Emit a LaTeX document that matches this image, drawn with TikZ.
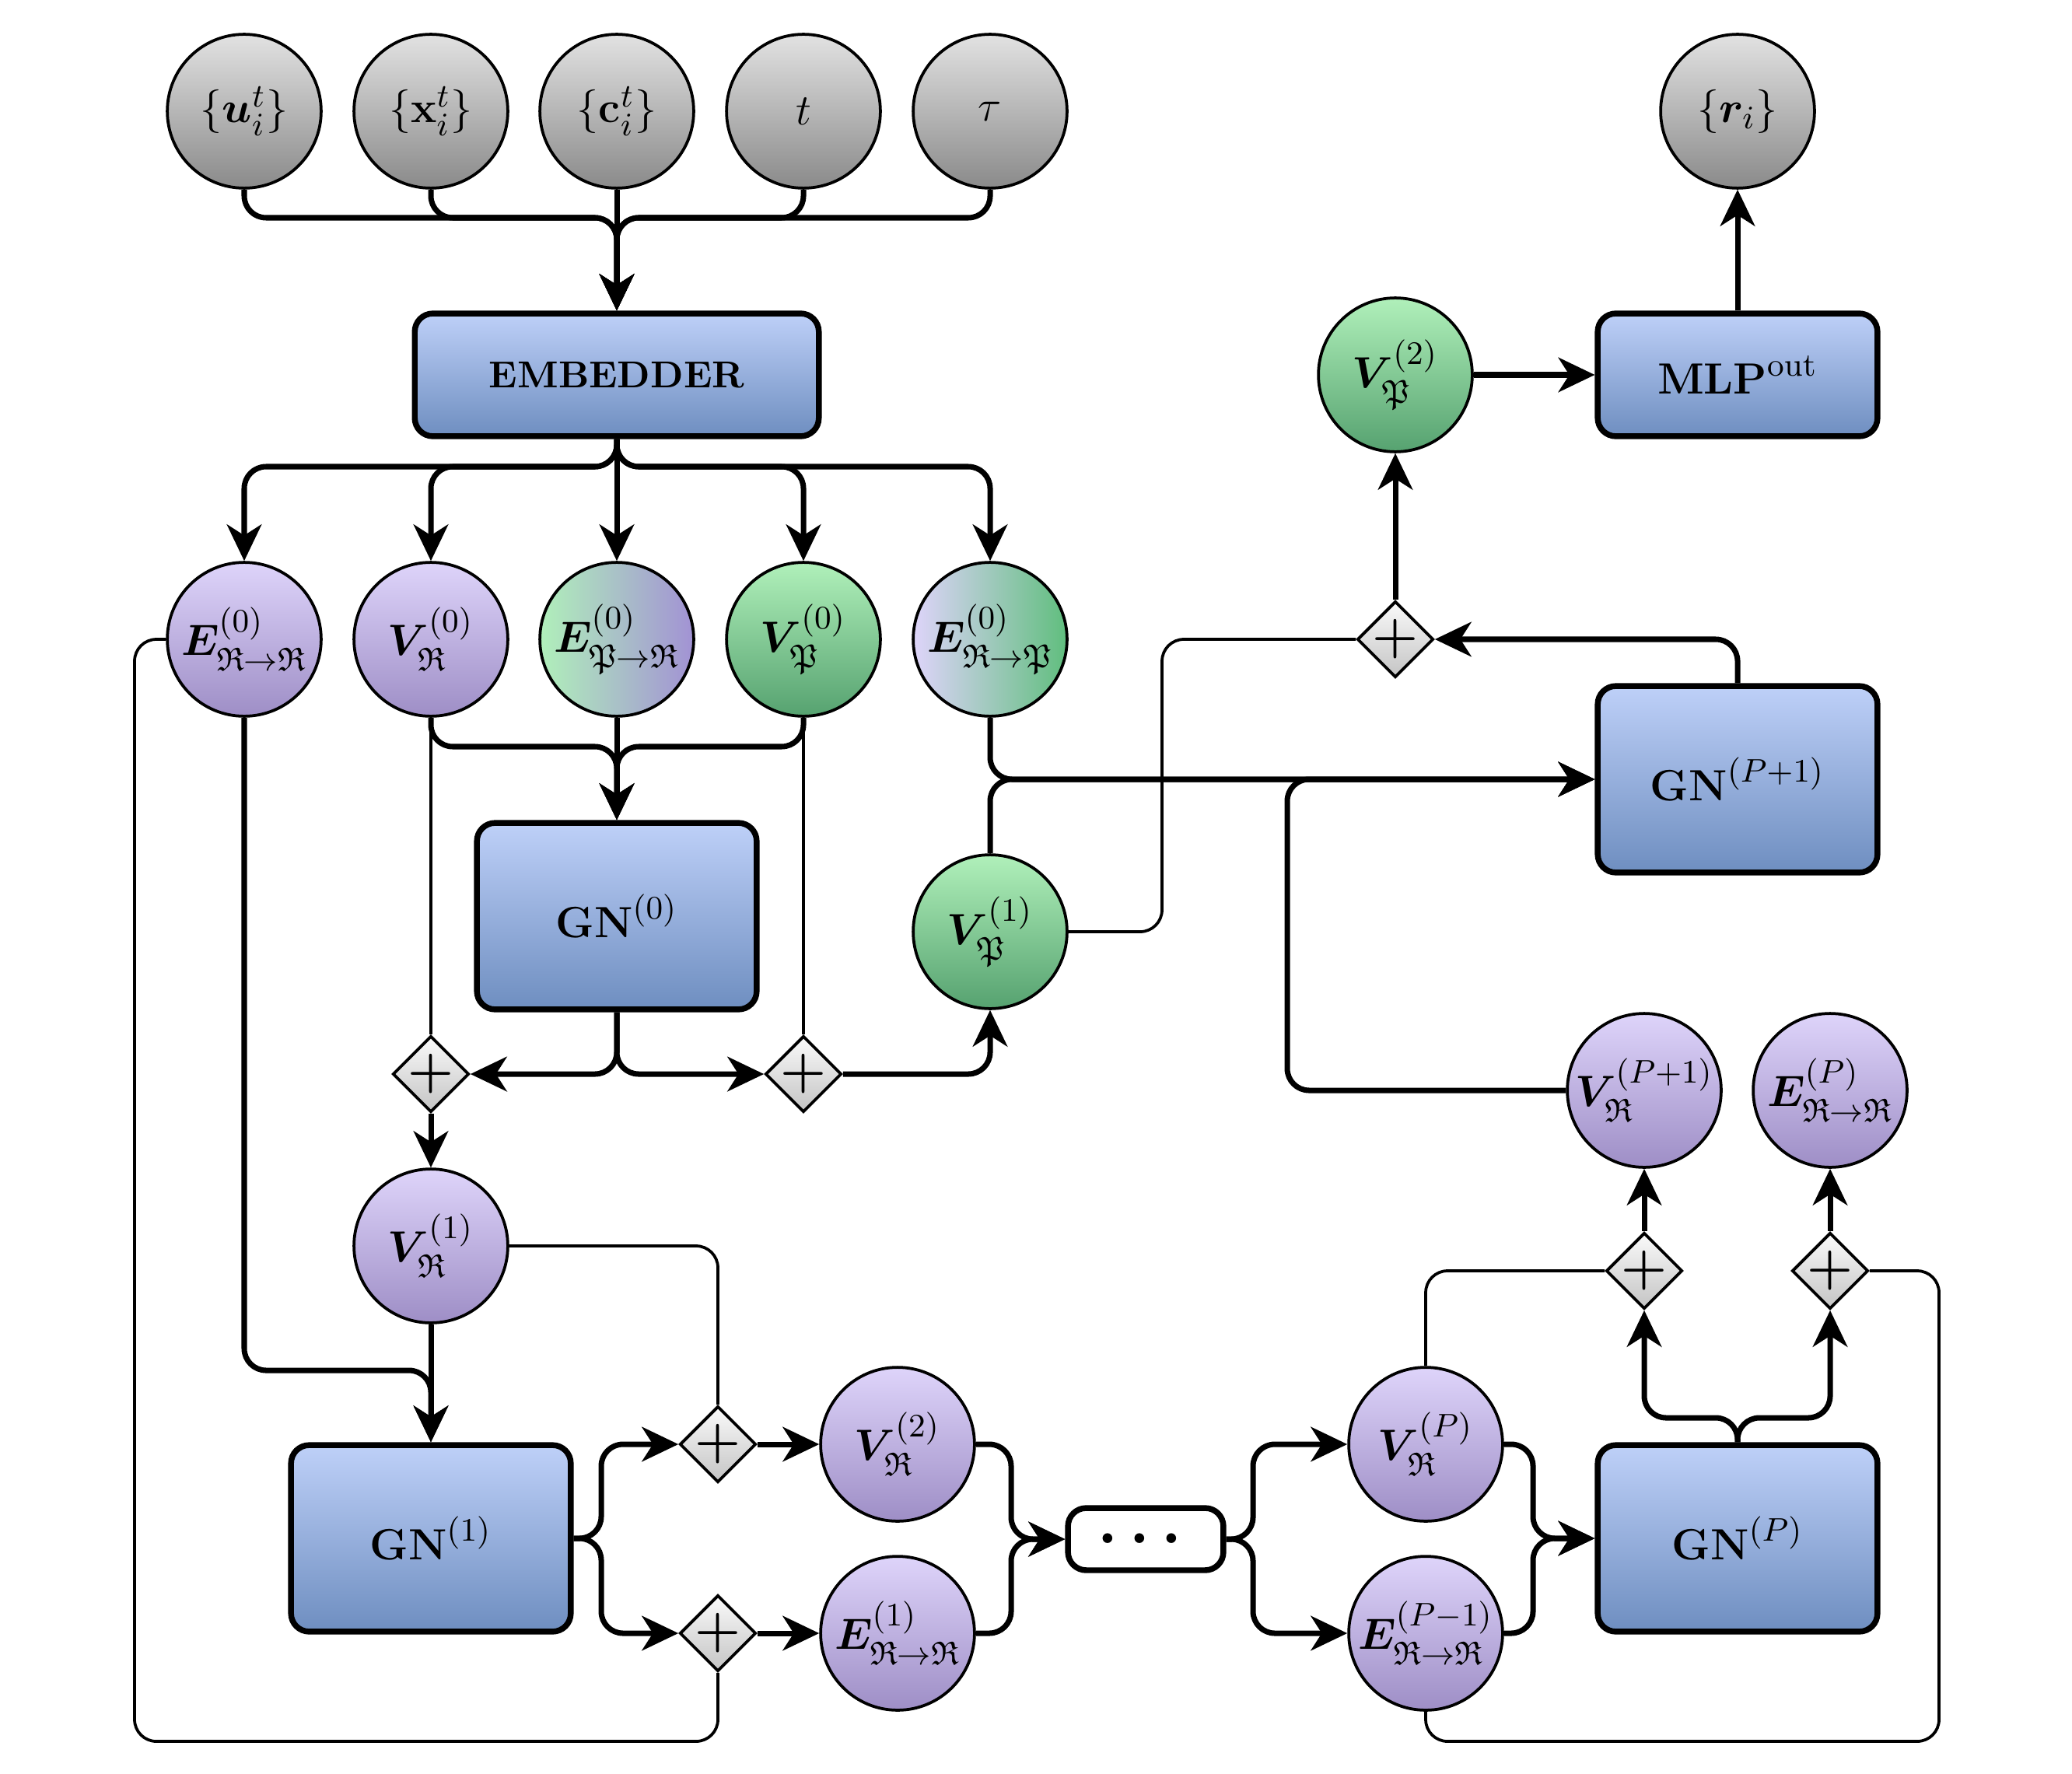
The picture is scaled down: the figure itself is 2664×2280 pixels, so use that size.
\documentclass[tikz,border=0pt]{standalone}
\usepackage{amsmath,amssymb,bm}
\usetikzlibrary{arrows.meta,shapes.geometric}

\definecolor{boxtop}{RGB}{190,208,248}
\definecolor{boxbot}{RGB}{110,142,192}
\definecolor{purtop}{RGB}{222,212,250}
\definecolor{purbot}{RGB}{158,142,198}
\definecolor{grntop}{RGB}{176,240,186}
\definecolor{grnbot}{RGB}{86,162,112}
\definecolor{mixpur}{RGB}{162,146,212}
\definecolor{mixgrn}{RGB}{96,190,126}
\definecolor{grytop}{RGB}{226,226,226}
\definecolor{grybot}{RGB}{138,138,138}
\definecolor{plustop}{RGB}{250,250,250}
\definecolor{plusbot}{RGB}{196,196,196}

\tikzset{
 circ/.style={circle, draw, line width=0.8pt, minimum size=1.485cm, inner sep=0pt, font=\fontsize{13}{15}\selectfont},
 graycirc/.style={circ, top color=grytop, bottom color=grybot},
 purcirc/.style={circ, top color=purtop, bottom color=purbot},
 grncirc/.style={circ, top color=grntop, bottom color=grnbot},
 blk/.style={draw, line width=1.6pt, rounded corners=5pt, top color=boxtop, bottom color=boxbot, font=\fontsize{13}{15}\selectfont, inner sep=0pt},
 gnbox/.style={blk, minimum width=2.7cm, minimum height=1.8cm},
 plusnode/.style={diamond, draw, line width=0.8pt, inner sep=-4pt, minimum width=0.735cm, minimum height=0.735cm, top color=plustop, bottom color=plusbot, font=\fontsize{15}{17}\selectfont},
 conn/.style={line width=1.5pt, rounded corners=6pt, -{Stealth[length=10pt,width=9.5pt,inset=3pt]}},
 thinline/.style={line width=0.8pt, rounded corners=6pt},
}

\begin{document}
\begin{tikzpicture}[x=0.0075cm, y=-0.0075cm]
\useasboundingbox (0,0) rectangle (2664,2280);

% top inputs
\node[graycirc] (u) at (314,143) {$\{\bm{u}_i^t\}$};
\node[graycirc] (xx) at (554,143) {$\{\mathbf{x}_i^t\}$};
\node[graycirc] (cc) at (793,143) {$\{\mathbf{c}_i^t\}$};
\node[graycirc] (tt) at (1033,143) {$t$};
\node[graycirc] (tau) at (1273,143) {$\tau$};
\node[graycirc] (rr) at (2234,143) {$\{\bm{r}_i\}$};

\node[blk, minimum width=3.9cm, minimum height=1.185cm, font=\fontsize{10.3}{12}\selectfont\bfseries] (emb) at (793,482) {EMBEDDER};
\node[blk, minimum width=2.7cm, minimum height=1.185cm] (mlp) at (2234,482) {$\mathbf{MLP}^{\mathrm{out}}$};
\node[grncirc] (vp2) at (1794,482) {$\bm{V}_{\mathfrak{P}}^{(2)}$};

% row 2
\node[purcirc] (err0) at (314,822) {$\bm{E}_{\mathfrak{R}\to\mathfrak{R}}^{(0)}$};
\node[purcirc] (vr0) at (554,822) {$\bm{V}_{\mathfrak{R}}^{(0)}$};
\node[circ, left color=grntop, right color=mixpur] (epr0) at (793,822) {$\bm{E}_{\mathfrak{P}\to\mathfrak{R}}^{(0)}$};
\node[grncirc] (vp0) at (1033,822) {$\bm{V}_{\mathfrak{P}}^{(0)}$};
\node[circ, left color=purtop, right color=mixgrn] (erp0) at (1273,822) {$\bm{E}_{\mathfrak{R}\to\mathfrak{P}}^{(0)}$};
\node[plusnode] (psum) at (1794,822) {$\boldsymbol{+}$};

\node[gnbox] (gnp1) at (2234,1002) {$\mathbf{GN}^{(P+1)}$};
\node[gnbox] (gn0) at (793,1178) {$\mathbf{GN}^{(0)}$};
\node[grncirc] (vp1) at (1273,1198) {$\bm{V}_{\mathfrak{P}}^{(1)}$};

\node[plusnode] (p1) at (554,1381) {$\boldsymbol{+}$};
\node[plusnode] (p2) at (1033,1381) {$\boldsymbol{+}$};
\node[purcirc] (vrp1) at (2114,1402) {$\bm{V}_{\mathfrak{R}}^{(P+1)}$};
\node[purcirc] (erp) at (2353,1402) {$\bm{E}_{\mathfrak{R}\to\mathfrak{R}}^{(P)}$};
\node[purcirc] (vr1) at (554,1602) {$\bm{V}_{\mathfrak{R}}^{(1)}$};
\node[plusnode] (pvp1) at (2114,1634) {$\boldsymbol{+}$};
\node[plusnode] (pep) at (2353,1634) {$\boldsymbol{+}$};

\node[gnbox] (gn1) at (554,1978) {$\mathbf{GN}^{(1)}$};
\node[plusnode] (pv1) at (923,1857) {$\boldsymbol{+}$};
\node[plusnode] (pe1) at (923,2100) {$\boldsymbol{+}$};
\node[purcirc] (vr2) at (1154,1857) {$\bm{V}_{\mathfrak{R}}^{(2)}$};
\node[purcirc] (er1) at (1154,2100) {$\bm{E}_{\mathfrak{R}\to\mathfrak{R}}^{(1)}$};
\node[draw, fill=white, line width=1.6pt, rounded corners=5pt, minimum width=1.5cm, minimum height=0.6cm, inner sep=0pt, font=\fontsize{16}{18}\selectfont] (dots) at (1473,1979) {$\boldsymbol{\cdots}$};
\node[purcirc] (vrp) at (1833,1857) {$\bm{V}_{\mathfrak{R}}^{(P)}$};
\node[purcirc] (erp1) at (1833,2100) {$\bm{E}_{\mathfrak{R}\to\mathfrak{R}}^{(P-1)}$};
\node[gnbox] (gnp) at (2234,1978) {$\mathbf{GN}^{(P)}$};

% junctions
\coordinate (jt) at (793,280);
\coordinate (je) at (793,600);
\coordinate (jg) at (793,960);
\coordinate (jg1) at (554,1762);
\coordinate (js1) at (773,1978);
\coordinate (jd1) at (1300,1979);
\coordinate (jd2) at (1611,1979);
\coordinate (jd3) at (1971,1978);
\coordinate (jp) at (2234,1823);
\coordinate (jq) at (1655,1002);

% inputs -> embedder
\draw[conn] (u.south) |- (jt) -- (emb.north);
\draw[conn] (xx.south) |- (jt) -- (emb.north);
\draw[conn] (cc.south) -- (emb.north);
\draw[conn] (tt.south) |- (jt) -- (emb.north);
\draw[conn] (tau.south) |- (jt) -- (emb.north);

% embedder -> row 2
\draw[conn] (emb.south) -- (je) -| (err0.north);
\draw[conn] (emb.south) -- (je) -| (vr0.north);
\draw[conn] (emb.south) -- (epr0.north);
\draw[conn] (emb.south) -- (je) -| (vp0.north);
\draw[conn] (emb.south) -- (je) -| (erp0.north);

% into GN0
\draw[conn] (vr0.south) |- (jg) -- (gn0.north);
\draw[conn] (epr0.south) -- (gn0.north);
\draw[conn] (vp0.south) |- (jg) -- (gn0.north);
\draw[thinline] (vr0.south) -- (p1.north);
\draw[thinline] (vp0.south) -- (p2.north);

% out of GN0
\draw[conn] (gn0.south) |- (p1.east);
\draw[conn] (gn0.south) |- (p2.west);
\draw[conn] (p2.east) -| (vp1.south);
\draw[conn] (p1.south) -- (vr1.north);

% into GN1
\draw[conn] (err0.south) |- (jg1) -- (gn1.north);
\draw[conn] (vr1.south) -- (gn1.north);
\draw[thinline] (err0.west) -| (173,2239) -| (pe1.south);
\draw[thinline] (vr1.east) -| (pv1.north);

% out of GN1
\draw[conn] (gn1.east) -- (js1) |- (pv1.west);
\draw[conn] (gn1.east) -- (js1) |- (pe1.west);
\draw[conn] (pv1.east) -- (vr2.west);
\draw[conn] (pe1.east) -- (er1.west);
\draw[conn] (vr2.east) -| (jd1) -- (dots.west);
\draw[conn] (er1.east) -| (jd1) -- (dots.west);
\draw[conn] (dots.east) -- (jd2) |- (vrp.west);
\draw[conn] (dots.east) -- (jd2) |- (erp1.west);
\draw[conn] (vrp.east) -| (jd3) -- (gnp.west);
\draw[conn] (erp1.east) -| (jd3) -- (gnp.west);

% out of GN^P
\draw[conn] (gnp.north) -- (jp) -| (pvp1.south);
\draw[conn] (gnp.north) -- (jp) -| (pep.south);
\draw[conn] (pvp1.north) -- (vrp1.south);
\draw[conn] (pep.north) -- (erp.south);
\draw[thinline] (vrp.north) |- (pvp1.west);
\draw[thinline] (erp1.south) |- (2493,2239) |- (pep.east);

% into GN^{P+1}
\draw[conn] (vrp1.west) -| (jq) -- (gnp1.west);
\draw[conn] (erp0.south) |- (gnp1.west);
\draw[conn] (vp1.north) |- (gnp1.west);

% output
\draw[conn] (gnp1.north) |- (psum.east);
\draw[thinline] (vp1.east) -| (1494,822) -- (psum.west);
\draw[conn] (psum.north) -- (vp2.south);
\draw[conn] (vp2.east) -- (mlp.west);
\draw[conn] (mlp.north) -- (rr.south);
\end{tikzpicture}
\end{document}
